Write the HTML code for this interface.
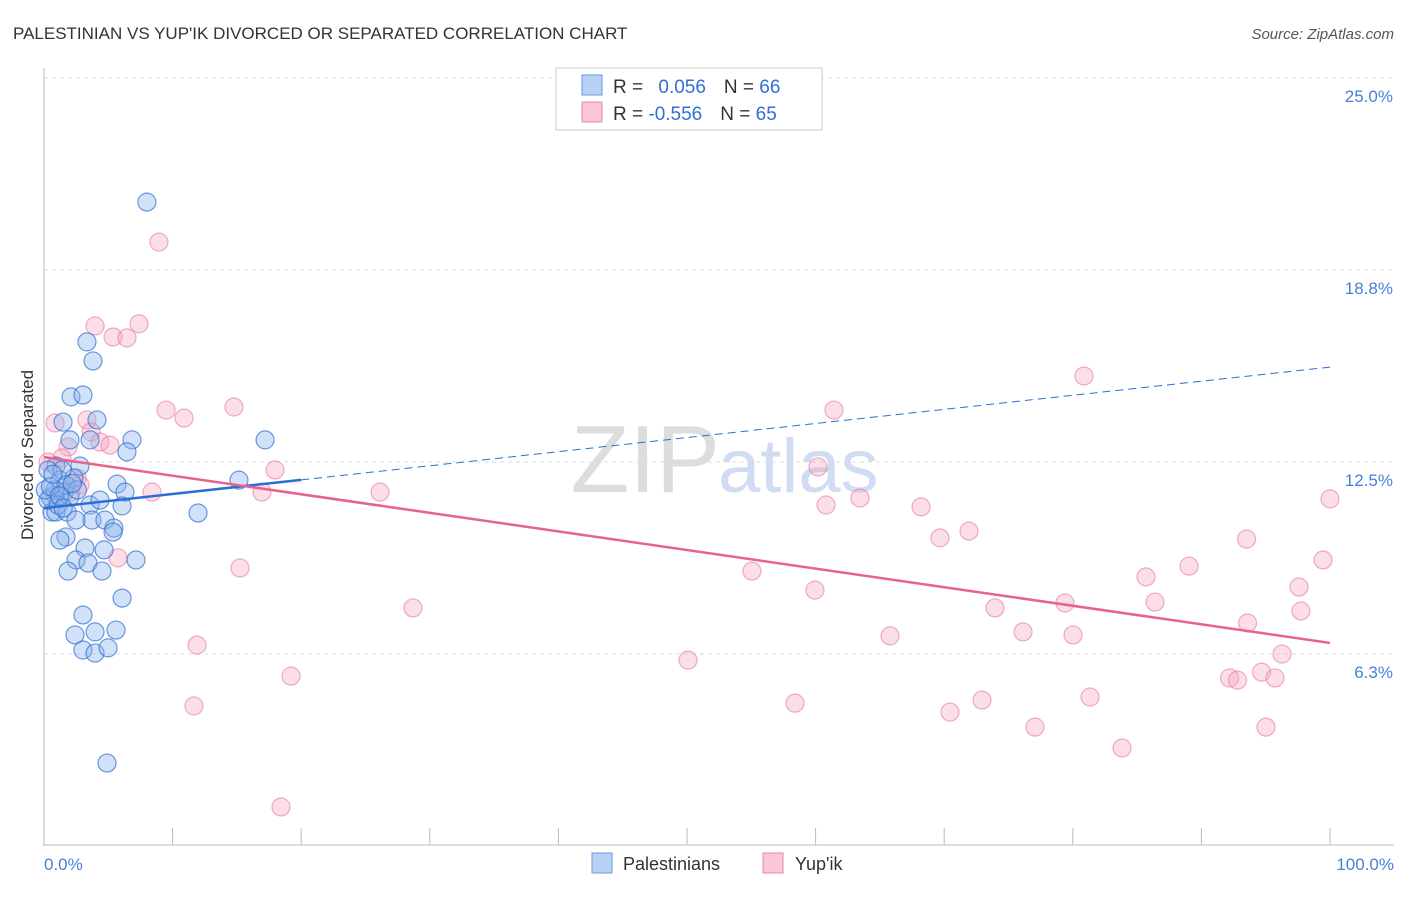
<!DOCTYPE html>
<html><head><meta charset="utf-8"><style>
body{margin:0;background:#fff;font-family:"Liberation Sans",sans-serif;}
svg text{font-family:"Liberation Sans",sans-serif;}
</style></head><body>
<svg id="c" width="1406" height="892">
<text x="13" y="39" font-size="17" fill="#333">PALESTINIAN VS YUP'IK DIVORCED OR SEPARATED CORRELATION CHART</text>
<text x="1394" y="39" font-size="15" fill="#555" font-style="italic" text-anchor="end">Source: ZipAtlas.com</text>
<text x="720" y="492" font-size="96" fill="#ddd" text-anchor="end" font-family="Liberation Serif">ZIP</text>
<text x="718" y="492" font-size="76" fill="#cfdcf2">atlas</text>
<g id="grid"></g><g id="axes"></g><g id="pts"></g><g id="trend"></g>
<text transform="translate(33,455) rotate(-90)" font-size="17" fill="#333" text-anchor="middle">Divorced or Separated</text>
<text x="44" y="870" font-size="17" fill="#4a7fd6">0.0%</text>
<text x="1394" y="870" font-size="17" fill="#4a7fd6" text-anchor="end">100.0%</text>
<g>
<rect x="556" y="68" width="266" height="62" fill="#fff" stroke="#ccc"/>
<rect x="582" y="75" width="20" height="20" fill="#b8d1f3" stroke="#6a9ae0"/>
<rect x="582" y="102" width="20" height="20" fill="#f9c7d6" stroke="#e58aa6"/>
<text x="613" y="93" font-size="19" fill="#333">R = <tspan fill="#2f6fd6" dx="10">0.056</tspan><tspan dx="18" fill="#333">N = </tspan><tspan fill="#2f6fd6">66</tspan></text>
<text x="613" y="120" font-size="19" fill="#333">R = <tspan fill="#2f6fd6">-0.556</tspan><tspan dx="18" fill="#333">N = </tspan><tspan fill="#2f6fd6">65</tspan></text>
</g>
<g>
<rect x="592" y="853" width="20" height="20" fill="#b8d1f3" stroke="#6a9ae0"/>
<text x="623" y="870" font-size="18" fill="#333">Palestinians</text>
<rect x="763" y="853" width="20" height="20" fill="#f9c7d6" stroke="#e58aa6"/>
<text x="795" y="870" font-size="18" fill="#333">Yup'ik</text>
</g>
</svg>
<script>
const yTicks=[25,18.75,12.5,6.25];
const yTickLabels=["25.0%","18.8%","12.5%","6.3%"];
const xTicks=[0,10,20,30,40,50,60,70,80,90,100];
const blueX=[8.0,3.34,3.81,2.1,3.03,4.12,1.48,2.02,3.58,6.84,17.19,6.45,2.8,0.93,0.31,1.24,2.33,5.68,15.16,6.3,1.56,2.02,0.86,0.47,3.58,6.07,0.62,0.93,1.79,3.73,2.49,4.74,11.98,5.44,5.37,1.71,1.24,3.19,4.67,2.49,3.42,7.15,1.87,4.51,6.07,3.03,2.41,3.97,5.6,3.03,3.97,4.98,4.9,0.86,1.4,0.31,1.09,0.1,1.7,4.35,2.6,0.5,1.2,2.2,0.7,1.5];
const blueY=[20.96,16.41,15.79,14.62,14.68,13.87,13.8,13.22,13.22,13.22,13.22,12.83,12.37,12.37,12.24,11.91,11.98,11.78,11.91,11.52,11.52,11.36,11.43,11.36,11.1,11.07,10.87,10.87,10.87,10.61,10.61,10.61,10.84,10.35,10.22,10.06,9.96,9.7,9.64,9.31,9.21,9.31,8.95,8.95,8.07,7.52,6.87,6.97,7.03,6.38,6.28,6.45,2.7,11.59,12.24,11.26,11.1,11.59,11.75,11.26,11.59,11.7,11.4,11.8,12.1,11.0];
const pinkX=[8.94,3.97,7.39,5.37,6.45,9.49,10.89,14.77,0.86,3.34,3.66,4.35,5.13,1.87,1.4,17.96,2.57,2.8,2.1,8.4,16.95,26.13,5.75,15.24,11.9,11.66,19.21,18.43,28.69,80.87,61.43,60.19,60.81,63.45,68.2,69.67,71.93,55.05,59.95,50.08,58.4,65.79,70.45,72.94,73.95,76.13,79.39,80.02,77.06,81.34,83.83,85.69,86.39,89.04,93.51,93.59,92.19,92.81,94.68,95.72,96.27,95.02,97.59,97.74,99.46,100.0,0.31];
const pinkY=[19.66,16.93,17.0,16.57,16.54,14.19,13.93,14.29,13.77,13.87,13.48,13.15,13.05,12.99,12.63,12.24,11.98,11.75,11.52,11.52,11.52,11.52,9.38,9.05,6.54,4.56,5.53,1.27,7.75,15.3,14.19,12.34,11.1,11.33,11.04,10.03,10.25,8.95,8.33,6.05,4.65,6.84,4.36,4.75,7.75,6.97,7.91,6.87,3.87,4.85,3.19,8.76,7.94,9.11,9.99,7.26,5.47,5.4,5.66,5.47,6.25,3.87,8.43,7.65,9.31,11.3,12.5];
const blueTrend=[11.0,15.59];
const pinkTrend=[12.66,6.61];
const X=v=>44+v*12.86, Y=v=>846-v*30.72;
const NS="http://www.w3.org/2000/svg";
function mk(p,tag,a){const e=document.createElementNS(NS,tag);for(const k in a)e.setAttribute(k,a[k]);p.appendChild(e);return e;}
const grid=document.getElementById('grid'),axes=document.getElementById('axes'),pts=document.getElementById('pts'),tr=document.getElementById('trend');
yTicks.forEach((t,i)=>{
 const l=mk(grid,'line',{x1:44,x2:1394,y1:Y(t),y2:Y(t),stroke:'#ddd','stroke-dasharray':'4,4'});
 
 
 const tx=mk(grid,'text',{x:1393,y:Y(t)+24,'font-size':17,fill:'#4a7fd6','text-anchor':'end'});
 tx.textContent=yTickLabels[i];
 
 
});
const la=mk(axes,'line',{x1:44,x2:44,y1:68,y2:846,stroke:'#bbb'});


const ba=mk(axes,'line',{x1:44,x2:1394,y1:845,y2:845,stroke:'#bbb'});


xTicks.forEach(t=>{const l=mk(axes,'line',{x1:X(t),x2:X(t),y1:828,y2:845,stroke:'#bbb'});
 
 });
pinkX.forEach((v,i)=>{const c=mk(pts,'circle',{cx:X(v),cy:Y(pinkY[i]),r:9,fill:'rgba(244,160,188,0.35)',stroke:'rgba(232,120,155,0.6)','stroke-width':1.2});
 
 });
blueX.forEach((v,i)=>{const c=mk(pts,'circle',{cx:X(v),cy:Y(blueY[i]),r:9,fill:'rgba(140,180,236,0.4)',stroke:'rgba(50,110,210,0.7)','stroke-width':1.2});
 
 });
const bAt=x=>blueTrend[0]+(blueTrend[1]-blueTrend[0])*x/100;
const b1=mk(tr,'line',{x1:X(0),y1:Y(bAt(0)),x2:X(20),y2:Y(bAt(20)),stroke:'#2a6fd6','stroke-width':2.5});


const b2=mk(tr,'line',{x1:X(20),y1:Y(bAt(20)),x2:X(100),y2:Y(bAt(100)),stroke:'#2a6fd6','stroke-width':1,'stroke-dasharray':'8,5'});


const p1=mk(tr,'line',{x1:X(0),y1:Y(pinkTrend[0]),x2:X(100),y2:Y(pinkTrend[1]),stroke:'#e8628e','stroke-width':2.5});


</script>
</body></html>
